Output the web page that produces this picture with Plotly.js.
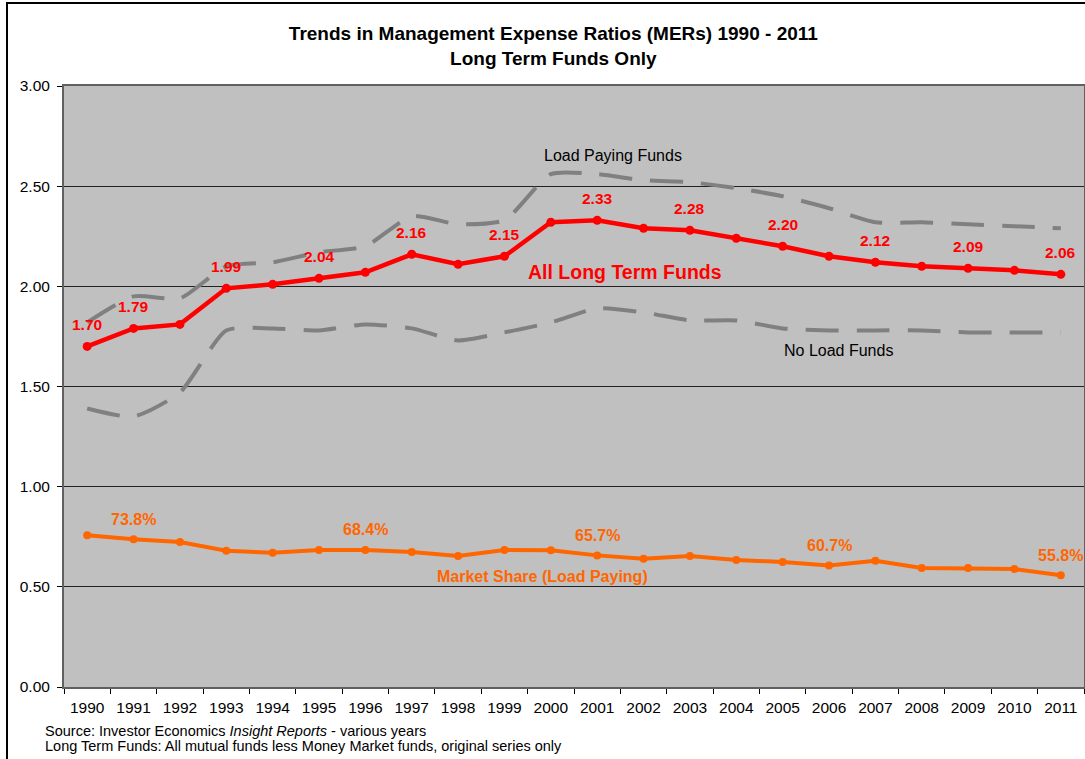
<!DOCTYPE html>
<html>
<head>
<meta charset="utf-8">
<script src="https://cdn.plot.ly/plotly-3.0.1.min.js"></script>
<style>
  body { margin: 0; background: #fff; }
  #wrap { position: relative; width: 1085px; height: 759px; }
  #graph { width: 1085px; height: 759px; }
  #frame { position: absolute; left: 6px; top: 2px; width: 1090px; height: 800px;
           border-left: 2px solid #000; border-top: 2px solid #000; pointer-events: none; }
</style>
</head>
<body>
<div id="wrap">
  <div id="graph"></div>
  <div id="frame"></div>
</div>
<script>
var years = ["1990", "1991", "1992", "1993", "1994", "1995", "1996", "1997", "1998", "1999", "2000",
             "2001", "2002", "2003", "2004", "2005", "2006", "2007", "2008", "2009", "2010", "2011"];
/* MER for all long term funds */
var allLongTerm = [1.70, 1.79, 1.81, 1.99, 2.01, 2.04, 2.07, 2.16, 2.11, 2.15, 2.32,
                   2.33, 2.29, 2.28, 2.24, 2.20, 2.15, 2.12, 2.10, 2.09, 2.08, 2.06];
var loadPaying = [1.82, 1.95, 1.94, 2.10, 2.12, 2.17, 2.20, 2.35, 2.31, 2.33, 2.56,
                  2.56, 2.53, 2.52, 2.49, 2.45, 2.39, 2.32, 2.32, 2.31, 2.30, 2.29];
var noLoad = [1.39, 1.35, 1.47, 1.78, 1.79, 1.78, 1.81, 1.79, 1.73, 1.77, 1.82,
              1.89, 1.87, 1.83, 1.83, 1.79, 1.78, 1.78, 1.78, 1.77, 1.77, 1.77];
/* market share of load paying funds, in percent */
var marketShare = [75.8, 73.8, 72.4, 68.0, 67.0, 68.4, 68.4, 67.4, 65.4, 68.4, 68.2,
                   65.7, 64.0, 65.4, 63.4, 62.4, 60.7, 63.0, 59.4, 59.4, 58.9, 55.8];
var merLabelYears = ["1990", "1991", "1993", "1995", "1997", "1999", "2001", "2003", "2005", "2007", "2009", "2011"];
var shareLabelYears = ["1991", "1996", "2001", "2006", "2011"];

var fontFam = "Arial, 'Liberation Sans', sans-serif";
var shareFrac = [];
var i;
for (i = 0; i < marketShare.length; i += 1) {
    shareFrac.push(marketShare[i] / 100);
}

/* annotation x on a category axis is given as the category index */
var annotations = [];
for (i = 0; i < merLabelYears.length; i += 1) {
    var k = years.indexOf(merLabelYears[i]);
    annotations.push({
        x: k, y: allLongTerm[k], yshift: 22, showarrow: false,
        text: "<b>" + allLongTerm[k].toFixed(2) + "</b>",
        font: {family: fontFam, size: 15.5, color: "#ff0000"}
    });
}
for (i = 0; i < shareLabelYears.length; i += 1) {
    var j = years.indexOf(shareLabelYears[i]);
    annotations.push({
        x: j, y: shareFrac[j], yshift: 20, showarrow: false,
        text: "<b>" + marketShare[j].toFixed(1) + "%</b>",
        font: {family: fontFam, size: 16, color: "#ff6600"}
    });
}
/* series names written on the chart */
annotations.push({x: 11.34, y: 2.651, showarrow: false, text: "Load Paying Funds",
    font: {family: fontFam, size: 16, color: "#000"}});
annotations.push({x: 11.6, y: 2.072, showarrow: false, text: "<b>All Long Term Funds</b>",
    font: {family: fontFam, size: 19.5, color: "#ff0000"}});
annotations.push({x: 16.2, y: 1.682, showarrow: false, text: "No Load Funds",
    font: {family: fontFam, size: 16, color: "#000"}});
annotations.push({x: 9.83, y: 0.554, showarrow: false, text: "<b>Market Share (Load Paying)</b>",
    font: {family: fontFam, size: 16, color: "#ff6600"}});
/* footnotes */
annotations.push({xref: "paper", yref: "paper", x: -0.021, y: -0.0732, xanchor: "left", yanchor: "middle",
    showarrow: false, text: "Source: Investor Economics <i>Insight Reports</i> - various years",
    font: {family: fontFam, size: 14.5, color: "#000"}});
annotations.push({xref: "paper", yref: "paper", x: -0.021, y: -0.0982, xanchor: "left", yanchor: "middle",
    showarrow: false, text: "Long Term Funds: All mutual funds less Money Market funds, original series only",
    font: {family: fontFam, size: 14.5, color: "#000"}});

function drawGraph() {
    var loadTrace = {
        x: years, y: loadPaying, type: "scatter", mode: "lines", name: "Load Paying Funds",
        line: {color: "#808080", width: 4, dash: "33px,18px", shape: "spline", smoothing: 0.6}
    };
    var noLoadTrace = {
        x: years, y: noLoad, type: "scatter", mode: "lines", name: "No Load Funds",
        line: {color: "#808080", width: 4, dash: "33px,18px", shape: "spline", smoothing: 0.6}
    };
    var allTrace = {
        x: years, y: allLongTerm, type: "scatter", mode: "lines+markers", name: "All Long Term Funds",
        line: {color: "#ff0000", width: 4.5},
        marker: {color: "#ff0000", size: 9}
    };
    var shareTrace = {
        x: years, y: shareFrac, type: "scatter", mode: "lines+markers", name: "Market Share (Load Paying)",
        line: {color: "#ff6600", width: 4},
        marker: {color: "#ff6600", size: 8}
    };
    var layout = {
        width: 1085,
        height: 759,
        margin: {l: 64, r: 1, t: 86, b: 72},
        paper_bgcolor: "#ffffff",
        plot_bgcolor: "#c0c0c0",
        showlegend: false,
        font: {family: fontFam, size: 15, color: "#000"},
        title: {
            text: "<b>Trends in Management Expense Ratios (MERs) 1990 - 2011<br>Long Term Funds Only</b>",
            font: {family: fontFam, size: 19, color: "#000"},
            xref: "container", x: 0.51, xanchor: "center",
            yref: "container", y: 0.947, yanchor: "middle"
        },
        xaxis: {
            type: "category",
            range: [-0.5, years.length - 0.5],
            autorange: false,
            tickson: "boundaries",
            ticks: "outside",
            ticklen: 5,
            tickcolor: "#000",
            ticklabelstandoff: 5,
            tickangle: 0,
            showgrid: false,
            showline: true,
            linecolor: "#606060",
            linewidth: 2,
            mirror: true,
            tickfont: {family: fontFam, size: 15.5, color: "#000"}
        },
        yaxis: {
            range: [0, 3],
            autorange: false,
            dtick: 0.5,
            tickformat: ".2f",
            ticks: "outside",
            ticklen: 5,
            tickcolor: "#000",
            ticklabelstandoff: 4,
            showgrid: true,
            gridcolor: "#222",
            gridwidth: 1,
            zeroline: false,
            showline: true,
            linecolor: "#606060",
            linewidth: 2,
            mirror: true,
            tickfont: {family: fontFam, size: 15.5, color: "#000"}
        },
        annotations: annotations
    };
    Plotly.newPlot("graph", [loadTrace, noLoadTrace, allTrace, shareTrace], layout, {displayModeBar: false});
}
drawGraph();
</script>
</body>
</html>
